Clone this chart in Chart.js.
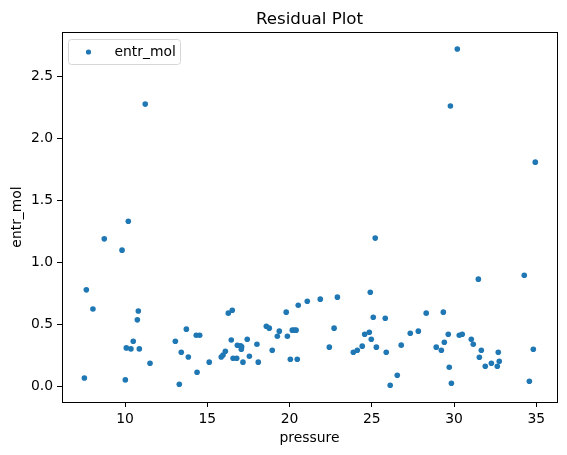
<!DOCTYPE html>
<html>
<head>
<meta charset="utf-8">
<script src="https://cdn.jsdelivr.net/npm/chart.js@4/dist/chart.umd.min.js"></script>
<style>
  html, body { margin: 0; padding: 0; background: #fff; }
  canvas { display: block; }
</style>
</head>
<body>
<canvas id="c" width="567" height="455"></canvas>
<script>
// values
const pressure = [7.53, 7.65, 8.05, 8.74, 9.82, 10.02, 10.08, 10.2, 10.36, 10.5, 10.75, 10.81, 10.87, 11.23, 11.52,
    13.06, 13.3, 13.42, 13.73, 13.85, 14.33, 14.38, 14.54, 15.12, 15.85, 15.96, 16.1, 16.28, 16.46, 16.52,
    16.57, 16.79, 16.83, 17.03, 17.07, 17.09, 17.17, 17.43, 17.56, 18.02, 18.1, 18.59, 18.77, 18.95, 19.26,
    19.38, 19.8, 19.87, 20.05, 20.17, 20.29, 20.4, 20.47, 20.53, 21.08, 21.87, 22.42, 22.71, 22.91, 23.88,
    24.12, 24.42, 24.57, 24.85, 24.91, 24.97, 25.09, 25.21, 25.28, 25.82, 25.88, 26.12, 26.55, 26.79, 27.34,
    27.83, 28.31, 28.92, 29.23, 29.35, 29.41, 29.65, 29.71, 29.78, 29.84, 30.2, 30.32, 30.5, 31.05, 31.17,
    31.48, 31.54, 31.66, 31.9, 32.27, 32.63, 32.69, 32.75, 34.27, 34.58, 34.82, 34.94];
const entrMol = [0.067, 0.777, 0.623, 1.188, 1.097, 0.051, 0.309, 1.33, 0.301, 0.363, 0.535, 0.607, 0.301, 2.274, 0.185,
    0.363, 0.016, 0.274, 0.46, 0.236, 0.411, 0.113, 0.411, 0.194, 0.236, 0.252, 0.282, 0.589, 0.373, 0.613,
    0.226, 0.226, 0.33, 0.325, 0.298, 0.317, 0.194, 0.379, 0.242, 0.339, 0.194, 0.484, 0.468, 0.29, 0.403,
    0.444, 0.597, 0.403, 0.218, 0.452, 0.452, 0.452, 0.218, 0.653, 0.685, 0.702, 0.315, 0.468, 0.718, 0.274,
    0.29, 0.323, 0.419, 0.435, 0.758, 0.379, 0.556, 1.194, 0.315, 0.548, 0.274, 0.008, 0.089, 0.331, 0.427,
    0.444, 0.589, 0.315, 0.29, 0.597, 0.355, 0.419, 0.153, 2.258, 0.024, 2.718, 0.411, 0.419, 0.379, 0.339,
    0.863, 0.234, 0.29, 0.161, 0.185, 0.161, 0.274, 0.202, 0.895, 0.04, 0.298, 1.806];
const xTicks = [10, 15, 20, 25, 30, 35];
const yTicks = [0, 0.5, 1.0, 1.5, 2.0, 2.5];
const seriesName = 'entr_mol';
const chartTitle = 'Residual Plot';

const FONT = "'DejaVu Sans', sans-serif";
const BLUE = '#1f77b4';

//Frame, title and legend drawn like matplotlib
const mplDecor = {
    id: 'mplDecor',
    afterDraw(chart) {
        const {ctx, chartArea: a} = chart;
        ctx.save();
        ctx.strokeStyle = '#000';
        ctx.lineWidth = 1;
        ctx.strokeRect(a.left + 0.5, a.top + 0.5, a.right - a.left, a.bottom - a.top);

        ctx.fillStyle = '#000';
        ctx.font = `16.7px ${FONT}`;
        ctx.textAlign = 'center';
        ctx.textBaseline = 'alphabetic';
        ctx.fillText(chartTitle, (a.left + a.right) / 2, a.top - 8);

        // legend box
        const bx = a.left + 6.5, by = a.top + 7.5, bw = 112, bh = 25, r = 3;
        ctx.beginPath();
        ctx.roundRect(bx, by, bw, bh, r);
        ctx.fillStyle = 'rgba(255,255,255,0.8)';
        ctx.fill();
        ctx.strokeStyle = '#d6d6d6';
        ctx.stroke();
        ctx.fillStyle = BLUE;
        ctx.beginPath();
        ctx.arc(bx + 20, by + 12.5, 2.6, 0, Math.PI * 2);
        ctx.fill();
        ctx.fillStyle = '#000';
        ctx.font = `13.9px ${FONT}`;
        ctx.textAlign = 'left';
        ctx.textBaseline = 'middle';
        ctx.fillText(seriesName, bx + 46, by + 12.5);
        ctx.restore();
    }
};

new Chart(document.getElementById('c'), {
    type: 'scatter',
    data: {
        datasets: [{
            label: seriesName,
            data: pressure.map((p, i) => ({x: p, y: entrMol[i]})),
            backgroundColor: BLUE,
            borderWidth: 0,
            pointRadius: 2.8,
            pointHoverRadius: 2.8
        }]
    },
    options: {
        responsive: false,
        animation: false,
        layout: {padding: {top: 32, right: 10, left: 0, bottom: 0}},
        plugins: {
            legend: {display: false},
            tooltip: {enabled: false},
            title: {display: false}
        },
        scales: {
            x: {
                type: 'linear',
                min: 6.17,
                max: 36.26,
                afterBuildTicks: (s) => { s.ticks = xTicks.map(v => ({value: v})); },
                afterFit: (s) => { s.height = 53; },
                grid: {drawOnChartArea: false, tickLength: 5, color: '#000', tickColor: '#000'},
                border: {display: false},
                ticks: {color: '#000', font: {family: FONT, size: 13.9}, padding: 4, maxRotation: 0,
                    callback: (v) => String(v)},
                title: {display: true, text: 'pressure', color: '#000',
                    font: {family: FONT, size: 13.9}, padding: {top: 4, bottom: 8}}
            },
            y: {
                type: 'linear',
                min: -0.127,
                max: 2.855,
                afterBuildTicks: (s) => { s.ticks = yTicks.map(v => ({value: v})); },
                afterFit: (s) => { s.width = 62; },
                grid: {drawOnChartArea: false, tickLength: 5, color: '#000', tickColor: '#000'},
                border: {display: false},
                ticks: {color: '#000', font: {family: FONT, size: 13.9}, padding: 4,
                    callback: (v) => v.toFixed(1)},
                title: {display: true, text: 'entr_mol', color: '#000',
                    font: {family: FONT, size: 13.9}, padding: {top: 9, bottom: 4}}
            }
        }
    },
    plugins: [mplDecor]
});
</script>
</body>
</html>
